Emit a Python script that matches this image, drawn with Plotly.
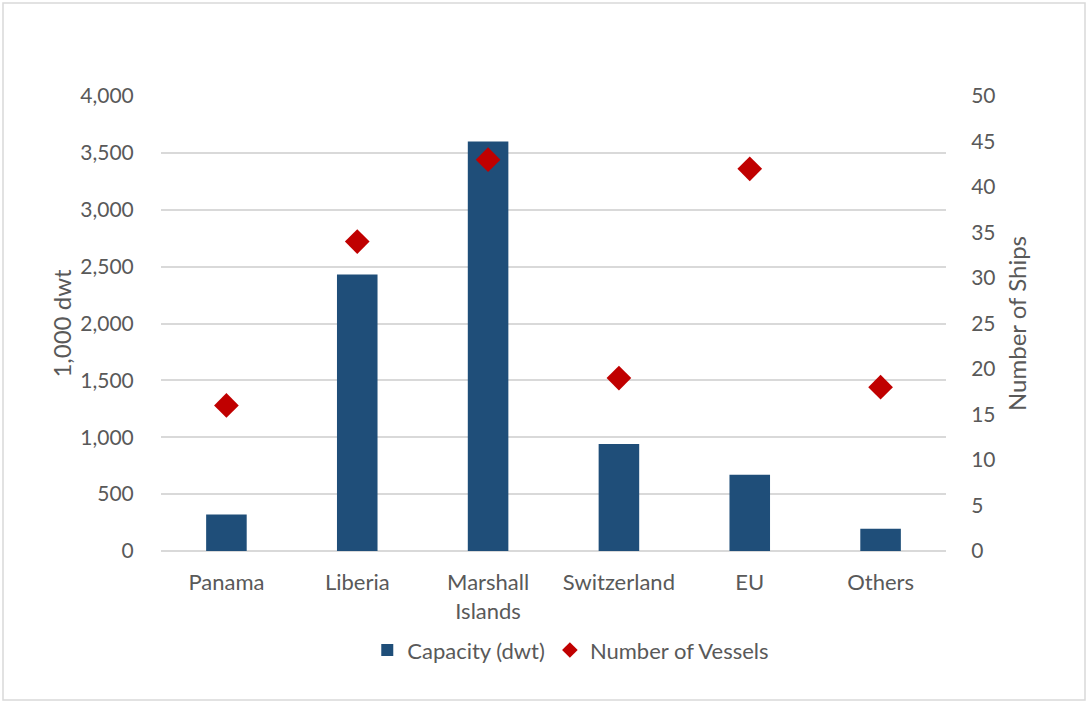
import plotly.graph_objects as go

categories = ["Panama", "Liberia", "Marshall<br>Islands", "Switzerland", "EU", "Others"]
capacity = [320, 2430, 3600, 940, 670, 195]
vessels = [16, 34, 43, 19, 42, 18]

W, H = 1088, 703
L, R, T, B = 161, 142, 96, 152
pw, ph = W - L - R, H - T - B

font = dict(family="Lato, Liberation Sans, Arial, sans-serif", color="#595959", size=21)

fig = go.Figure()
fig.add_trace(go.Bar(
    x=categories, y=capacity, name="Capacity (dwt)",
    marker=dict(color="#1F4E79", line=dict(width=0)), width=0.31,
    yaxis="y",
))
fig.add_trace(go.Scatter(
    x=categories, y=vessels, name="Number of Vessels", mode="markers",
    marker=dict(symbol="diamond", size=19, color="#C00000"),
    yaxis="y2",
))

fig.update_layout(
    width=W, height=H,
    margin=dict(l=L, r=R, t=T, b=B),
    paper_bgcolor="white", plot_bgcolor="white",
    font=font,
    xaxis=dict(showgrid=False, showline=False, ticks="outside", ticklen=12,
               tickcolor="rgba(0,0,0,0)", tickfont=dict(size=22)),
    yaxis=dict(range=[0, 4000], dtick=500, tickformat=",", gridcolor="#d9d9d9",
               gridwidth=1.5, zeroline=True, zerolinecolor="#d9d9d9", zerolinewidth=1.5,
               showline=False, ticks="outside", ticklen=22, tickcolor="rgba(0,0,0,0)",
               title=dict(text="1,000 dwt", font=dict(size=24), standoff=1),
               tickfont=dict(size=21)),
    yaxis2=dict(range=[0, 50], dtick=5, overlaying="y", side="right", showgrid=False,
                zeroline=False, showline=False, ticks="outside", ticklen=20,
                tickcolor="rgba(0,0,0,0)",
                title=dict(text="Number of Ships", font=dict(size=24), standoff=14),
                tickfont=dict(size=21)),
    legend=dict(orientation="h", x=0.522, xanchor="center", y=-0.172, yanchor="top",
                font=dict(size=22), itemwidth=30, traceorder="normal",
                itemsizing="constant"),
    shapes=[dict(type="rect", xref="paper", yref="paper",
                 x0=(3 - L) / pw, x1=(W - 3 - L) / pw,
                 y0=-(H - 3 - T - ph) / ph, y1=(ph + T - 3) / ph,
                 line=dict(color="#d9d9d9", width=1.5), layer="below")],
)

fig.write_html("out.html")
